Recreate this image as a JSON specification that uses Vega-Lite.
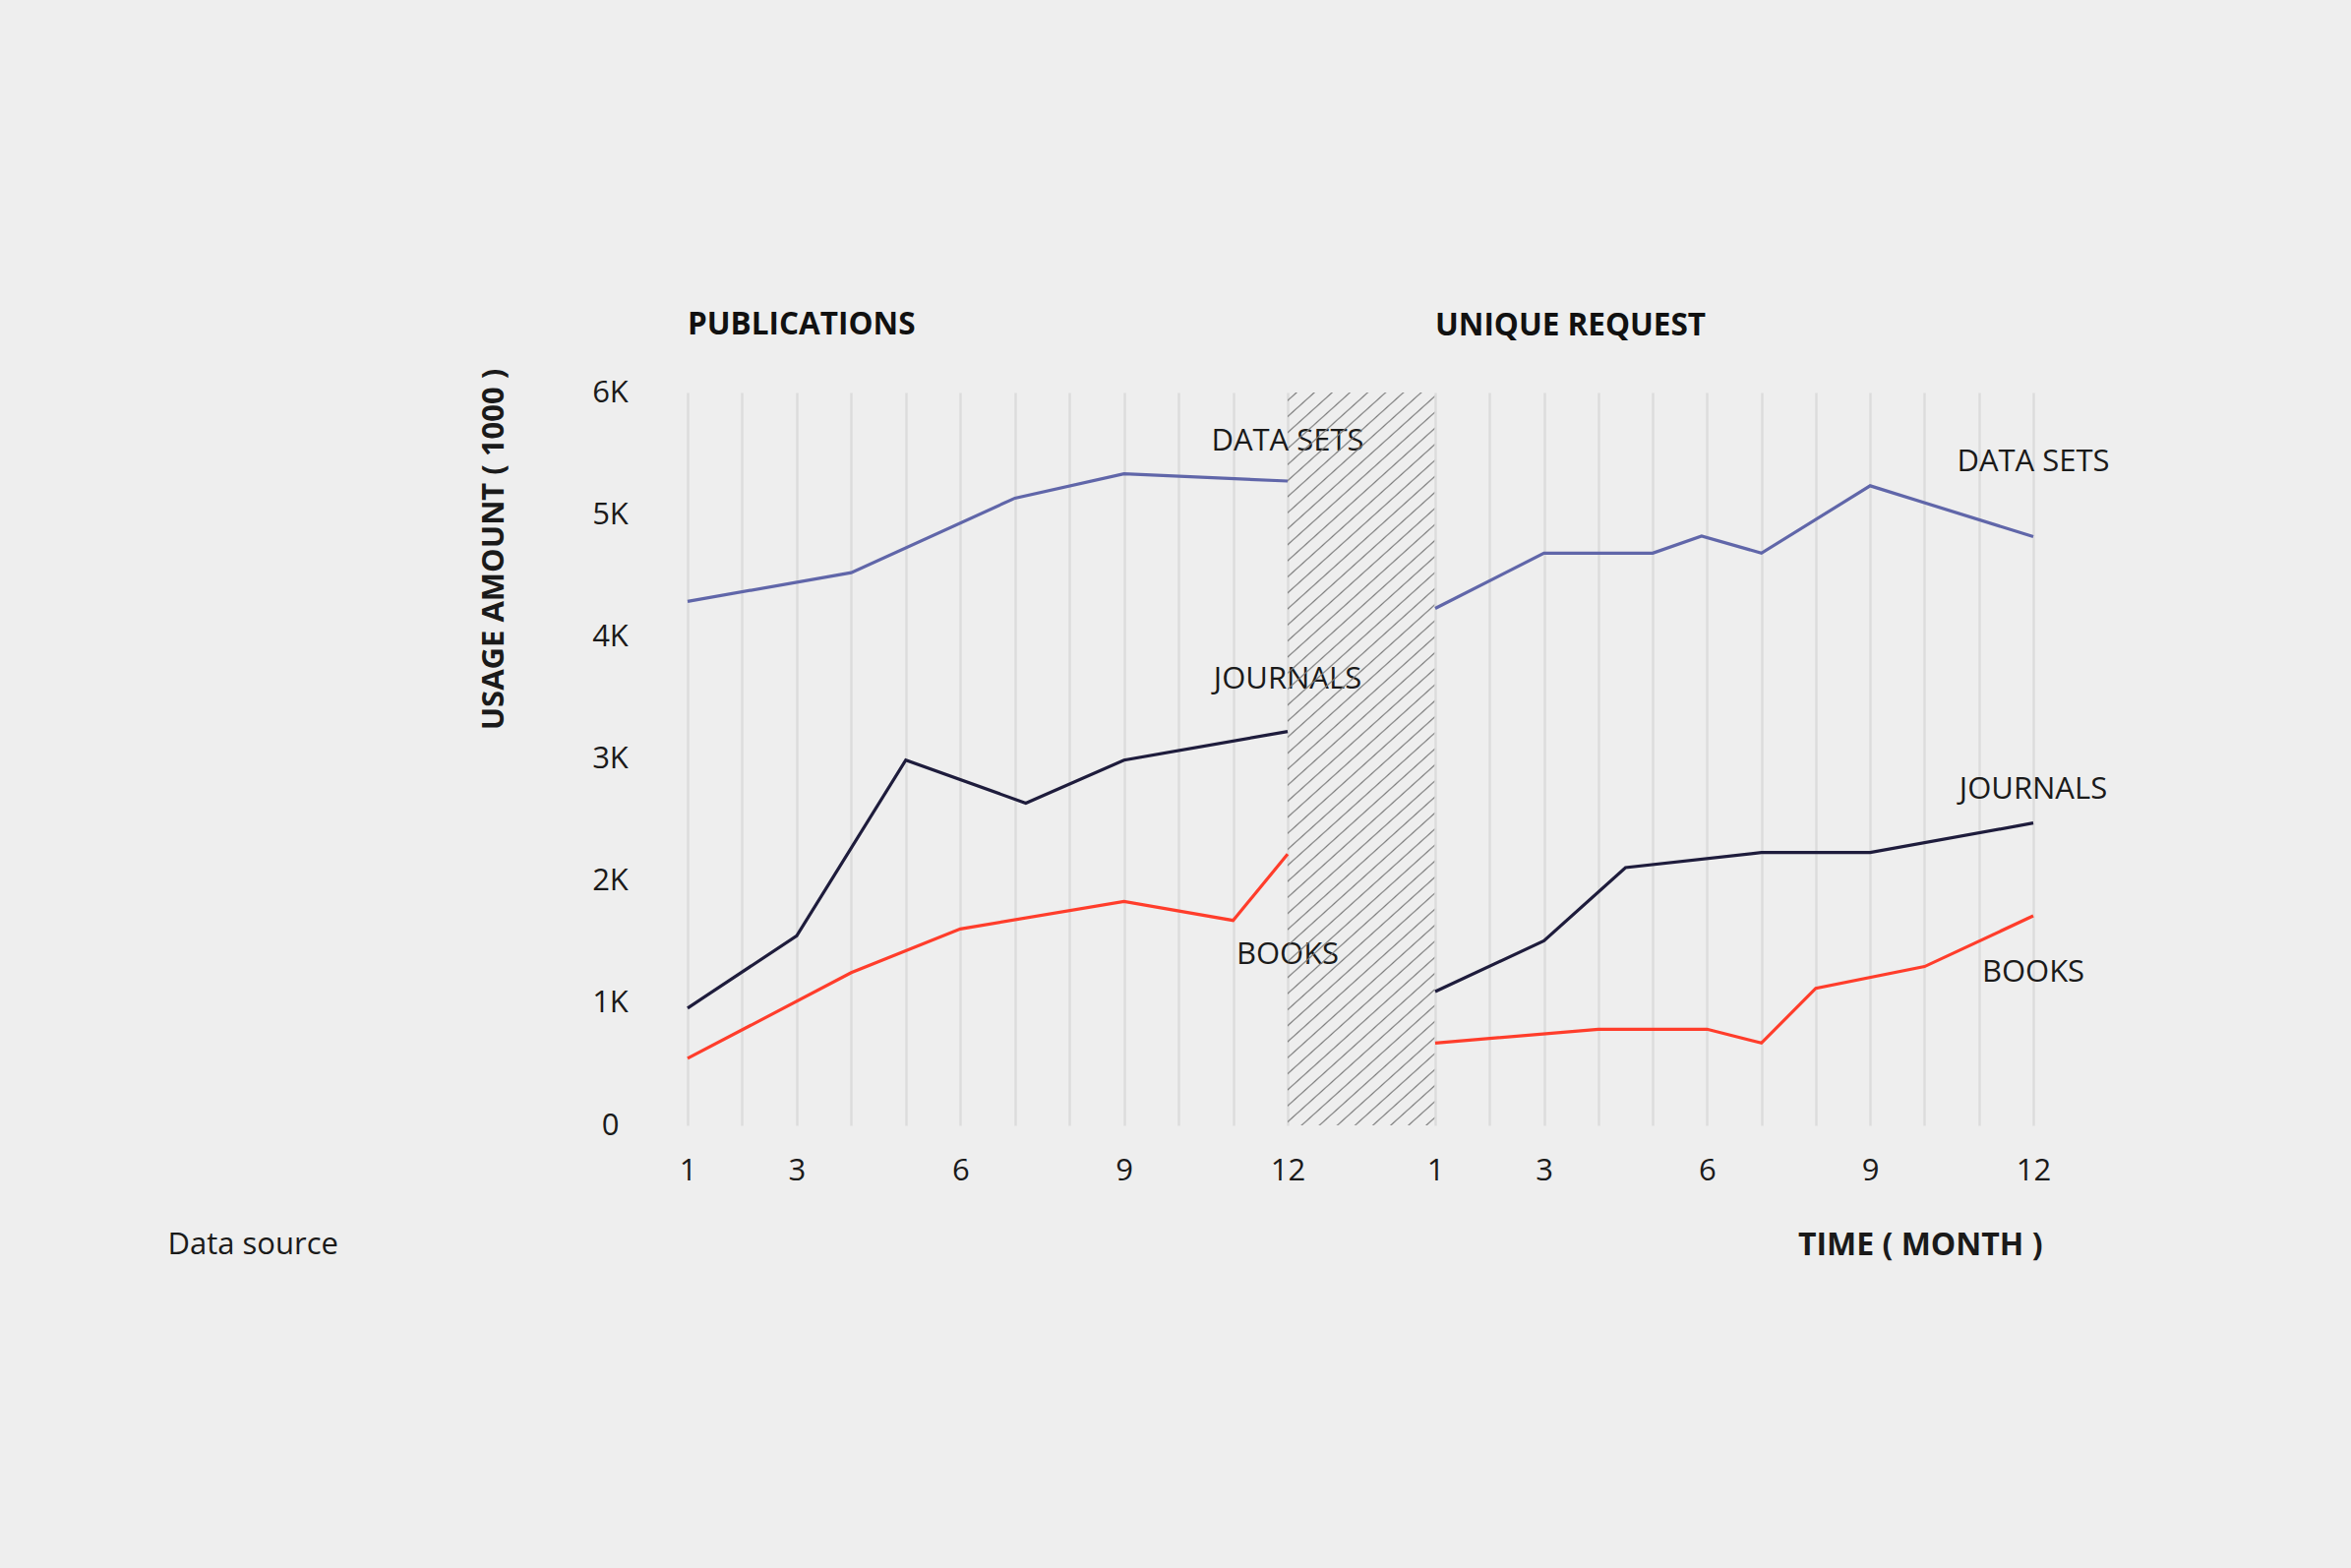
{
  "$schema": "https://vega.github.io/schema/vega-lite/v6.json",
  "background": "#eeeeee",
  "autosize": {"type": "pad"},
  "padding": {"left": 170, "top": 314, "right": 300, "bottom": 350},
  "spacing": 0,
  "bounds": "flush",
  "config": {
    "view": {"stroke": null},
    "font": "Open Sans",
    "axis": {
      "domain": false,
      "ticks": false,
      "labelFont": "Open Sans",
      "labelFontSize": 31,
      "labelColor": "#1a1a1a",
      "titleFont": "Open Sans",
      "titleFontSize": 31,
      "titleColor": "#1a1a1a",
      "labelFlush": false,
      "labelOverlap": false,
      "labelBound": false
    },
    "title": {
      "font": "Open Sans",
      "fontSize": 31.5,
      "fontWeight": "bold",
      "color": "#111111",
      "anchor": "start",
      "frame": "group",
      "baseline": "alphabetic"
    }
  },
  "datasets": {
    "usage": [
      {"panel": "PUBLICATIONS", "series": "DATA SETS", "month": 1, "usage": 4290},
      {"panel": "PUBLICATIONS", "series": "DATA SETS", "month": 4, "usage": 4525},
      {"panel": "PUBLICATIONS", "series": "DATA SETS", "month": 7, "usage": 5135},
      {"panel": "PUBLICATIONS", "series": "DATA SETS", "month": 9, "usage": 5335},
      {"panel": "PUBLICATIONS", "series": "DATA SETS", "month": 12, "usage": 5275},
      {"panel": "PUBLICATIONS", "series": "JOURNALS", "month": 1, "usage": 960},
      {"panel": "PUBLICATIONS", "series": "JOURNALS", "month": 3, "usage": 1551},
      {"panel": "PUBLICATIONS", "series": "JOURNALS", "month": 5, "usage": 2990},
      {"panel": "PUBLICATIONS", "series": "JOURNALS", "month": 7.2, "usage": 2638},
      {"panel": "PUBLICATIONS", "series": "JOURNALS", "month": 9, "usage": 2990},
      {"panel": "PUBLICATIONS", "series": "JOURNALS", "month": 12, "usage": 3225},
      {"panel": "PUBLICATIONS", "series": "BOOKS", "month": 1, "usage": 548},
      {"panel": "PUBLICATIONS", "series": "BOOKS", "month": 4, "usage": 1250},
      {"panel": "PUBLICATIONS", "series": "BOOKS", "month": 6, "usage": 1608},
      {"panel": "PUBLICATIONS", "series": "BOOKS", "month": 9, "usage": 1833},
      {"panel": "PUBLICATIONS", "series": "BOOKS", "month": 11, "usage": 1678},
      {"panel": "PUBLICATIONS", "series": "BOOKS", "month": 12, "usage": 2220},
      {"panel": "UNIQUE REQUEST", "series": "DATA SETS", "month": 1, "usage": 4232},
      {"panel": "UNIQUE REQUEST", "series": "DATA SETS", "month": 3, "usage": 4685},
      {"panel": "UNIQUE REQUEST", "series": "DATA SETS", "month": 5, "usage": 4685},
      {"panel": "UNIQUE REQUEST", "series": "DATA SETS", "month": 5.9, "usage": 4825},
      {"panel": "UNIQUE REQUEST", "series": "DATA SETS", "month": 7, "usage": 4685},
      {"panel": "UNIQUE REQUEST", "series": "DATA SETS", "month": 9, "usage": 5236},
      {"panel": "UNIQUE REQUEST", "series": "DATA SETS", "month": 12, "usage": 4820},
      {"panel": "UNIQUE REQUEST", "series": "JOURNALS", "month": 1, "usage": 1095},
      {"panel": "UNIQUE REQUEST", "series": "JOURNALS", "month": 3, "usage": 1511},
      {"panel": "UNIQUE REQUEST", "series": "JOURNALS", "month": 4.5, "usage": 2110},
      {"panel": "UNIQUE REQUEST", "series": "JOURNALS", "month": 7, "usage": 2234},
      {"panel": "UNIQUE REQUEST", "series": "JOURNALS", "month": 9, "usage": 2234},
      {"panel": "UNIQUE REQUEST", "series": "JOURNALS", "month": 12, "usage": 2475},
      {"panel": "UNIQUE REQUEST", "series": "BOOKS", "month": 1, "usage": 674},
      {"panel": "UNIQUE REQUEST", "series": "BOOKS", "month": 4, "usage": 787},
      {"panel": "UNIQUE REQUEST", "series": "BOOKS", "month": 6, "usage": 787},
      {"panel": "UNIQUE REQUEST", "series": "BOOKS", "month": 7, "usage": 674},
      {"panel": "UNIQUE REQUEST", "series": "BOOKS", "month": 8, "usage": 1122},
      {"panel": "UNIQUE REQUEST", "series": "BOOKS", "month": 10, "usage": 1300},
      {"panel": "UNIQUE REQUEST", "series": "BOOKS", "month": 12, "usage": 1715}
    ],
    "labels": [
      {"panel": "PUBLICATIONS", "series": "DATA SETS", "month": 12, "label_at": 5600},
      {"panel": "PUBLICATIONS", "series": "JOURNALS", "month": 12, "label_at": 3645},
      {"panel": "PUBLICATIONS", "series": "BOOKS", "month": 12, "label_at": 1395},
      {"panel": "UNIQUE REQUEST", "series": "DATA SETS", "month": 12, "label_at": 5425},
      {"panel": "UNIQUE REQUEST", "series": "JOURNALS", "month": 12, "label_at": 2745},
      {"panel": "UNIQUE REQUEST", "series": "BOOKS", "month": 12, "label_at": 1250}
    ]
  },
  "hconcat": [
    {
      "width": 610,
      "height": 745,
      "title": {"text": "PUBLICATIONS", "offset": 28},
      "layer": [
        {
          "data": {"name": "usage"},
          "transform": [{"filter": "datum.panel === 'PUBLICATIONS'"}],
          "mark": {"type": "line", "strokeWidth": 3.2},
          "encoding": {
            "x": {
              "field": "month",
              "type": "quantitative",
              "title": "Data source",
              "scale": {"domain": [1, 12], "nice": false, "zero": false},
              "axis": {
                "values": [1, 1.5, 2, 2.5, 3, 3.5, 4, 4.5, 5, 5.5, 6, 6.5, 7, 7.5, 8, 8.5, 9, 9.5, 10, 10.5, 11, 11.5, 12],
                "labelExpr": "indexof([1, 3, 6, 9, 12], datum.value) >= 0 ? '' + datum.value : ''",
                "grid": true,
                "gridColor": {"condition": {"test": "datum.value % 1 === 0", "value": "#dcdcdc"}, "value": "#e3e3e3"},
                "gridWidth": {"condition": {"test": "datum.value % 1 === 0", "value": 2.5}, "value": 1.5},
                "labelPadding": 46,
                "labelBaseline": "middle",
                "titleFontWeight": "normal",
                "titleX": -529,
                "titleY": 130,
                "titleAlign": "left",
                "titleBaseline": "alphabetic"
              }
            },
            "y": {
              "field": "usage",
              "type": "quantitative",
              "title": "USAGE AMOUNT ( 1000 )",
              "scale": {"domain": [0, 6000], "nice": false},
              "axis": {
                "values": [0, 1000, 2000, 3000, 4000, 5000, 6000],
                "labelExpr": "datum.value === 0 ? '0' : (datum.value / 1000) + 'K'",
                "grid": false,
                "labelAlign": "center",
                "labelBaseline": "middle",
                "labelPadding": 79,
                "titleFontWeight": "bold",
                "titleAngle": 270,
                "titleX": -188,
                "titleY": 159,
                "titleAlign": "center",
                "titleBaseline": "alphabetic"
              }
            },
            "color": {
              "field": "series",
              "type": "nominal",
              "scale": {"domain": ["DATA SETS", "JOURNALS", "BOOKS"], "range": ["#6066a9", "#1e1c3c", "#ff3d2b"]},
              "legend": null
            }
          }
        },
        {
          "data": {"name": "labels"},
          "transform": [{"filter": "datum.panel === 'PUBLICATIONS'"}],
          "mark": {"type": "text", "fontSize": 31, "align": "center", "baseline": "middle", "color": "#1a1a1a"},
          "encoding": {
            "x": {"field": "month", "type": "quantitative", "title": "Data source"},
            "y": {"field": "label_at", "type": "quantitative", "title": "USAGE AMOUNT ( 1000 )"},
            "text": {"field": "series"}
          }
        }
      ]
    },
    {
      "width": 150,
      "height": 745,
      "data": {"values": [{}]},
      "mark": {
        "type": "rect",
        "strokeWidth": 0,
        "fill": {
          "gradient": "linear",
          "x1": 0, "y1": 0, "x2": 0.20724, "y2": 1.14365,
          "stops": [
            {"offset": 0, "color": "rgba(125,125,125,0)"},
            {"offset": 0.0075, "color": "rgba(125,125,125,0)"}, {"offset": 0.0093, "color": "#7d7d7d"}, {"offset": 0.0111, "color": "rgba(125,125,125,0)"},
            {"offset": 0.0260, "color": "rgba(125,125,125,0)"}, {"offset": 0.0278, "color": "#7d7d7d"}, {"offset": 0.0296, "color": "rgba(125,125,125,0)"},
            {"offset": 0.0445, "color": "rgba(125,125,125,0)"}, {"offset": 0.0463, "color": "#7d7d7d"}, {"offset": 0.0481, "color": "rgba(125,125,125,0)"},
            {"offset": 0.0630, "color": "rgba(125,125,125,0)"}, {"offset": 0.0648, "color": "#7d7d7d"}, {"offset": 0.0666, "color": "rgba(125,125,125,0)"},
            {"offset": 0.0815, "color": "rgba(125,125,125,0)"}, {"offset": 0.0833, "color": "#7d7d7d"}, {"offset": 0.0851, "color": "rgba(125,125,125,0)"},
            {"offset": 0.1001, "color": "rgba(125,125,125,0)"}, {"offset": 0.1019, "color": "#7d7d7d"}, {"offset": 0.1037, "color": "rgba(125,125,125,0)"},
            {"offset": 0.1186, "color": "rgba(125,125,125,0)"}, {"offset": 0.1204, "color": "#7d7d7d"}, {"offset": 0.1222, "color": "rgba(125,125,125,0)"},
            {"offset": 0.1371, "color": "rgba(125,125,125,0)"}, {"offset": 0.1389, "color": "#7d7d7d"}, {"offset": 0.1407, "color": "rgba(125,125,125,0)"},
            {"offset": 0.1556, "color": "rgba(125,125,125,0)"}, {"offset": 0.1574, "color": "#7d7d7d"}, {"offset": 0.1592, "color": "rgba(125,125,125,0)"},
            {"offset": 0.1741, "color": "rgba(125,125,125,0)"}, {"offset": 0.1759, "color": "#7d7d7d"}, {"offset": 0.1777, "color": "rgba(125,125,125,0)"},
            {"offset": 0.1926, "color": "rgba(125,125,125,0)"}, {"offset": 0.1944, "color": "#7d7d7d"}, {"offset": 0.1962, "color": "rgba(125,125,125,0)"},
            {"offset": 0.2112, "color": "rgba(125,125,125,0)"}, {"offset": 0.2130, "color": "#7d7d7d"}, {"offset": 0.2148, "color": "rgba(125,125,125,0)"},
            {"offset": 0.2297, "color": "rgba(125,125,125,0)"}, {"offset": 0.2315, "color": "#7d7d7d"}, {"offset": 0.2333, "color": "rgba(125,125,125,0)"},
            {"offset": 0.2482, "color": "rgba(125,125,125,0)"}, {"offset": 0.2500, "color": "#7d7d7d"}, {"offset": 0.2518, "color": "rgba(125,125,125,0)"},
            {"offset": 0.2667, "color": "rgba(125,125,125,0)"}, {"offset": 0.2685, "color": "#7d7d7d"}, {"offset": 0.2703, "color": "rgba(125,125,125,0)"},
            {"offset": 0.2852, "color": "rgba(125,125,125,0)"}, {"offset": 0.2870, "color": "#7d7d7d"}, {"offset": 0.2888, "color": "rgba(125,125,125,0)"},
            {"offset": 0.3038, "color": "rgba(125,125,125,0)"}, {"offset": 0.3056, "color": "#7d7d7d"}, {"offset": 0.3074, "color": "rgba(125,125,125,0)"},
            {"offset": 0.3223, "color": "rgba(125,125,125,0)"}, {"offset": 0.3241, "color": "#7d7d7d"}, {"offset": 0.3259, "color": "rgba(125,125,125,0)"},
            {"offset": 0.3408, "color": "rgba(125,125,125,0)"}, {"offset": 0.3426, "color": "#7d7d7d"}, {"offset": 0.3444, "color": "rgba(125,125,125,0)"},
            {"offset": 0.3593, "color": "rgba(125,125,125,0)"}, {"offset": 0.3611, "color": "#7d7d7d"}, {"offset": 0.3629, "color": "rgba(125,125,125,0)"},
            {"offset": 0.3778, "color": "rgba(125,125,125,0)"}, {"offset": 0.3796, "color": "#7d7d7d"}, {"offset": 0.3814, "color": "rgba(125,125,125,0)"},
            {"offset": 0.3964, "color": "rgba(125,125,125,0)"}, {"offset": 0.3982, "color": "#7d7d7d"}, {"offset": 0.4000, "color": "rgba(125,125,125,0)"},
            {"offset": 0.4149, "color": "rgba(125,125,125,0)"}, {"offset": 0.4167, "color": "#7d7d7d"}, {"offset": 0.4185, "color": "rgba(125,125,125,0)"},
            {"offset": 0.4334, "color": "rgba(125,125,125,0)"}, {"offset": 0.4352, "color": "#7d7d7d"}, {"offset": 0.4370, "color": "rgba(125,125,125,0)"},
            {"offset": 0.4519, "color": "rgba(125,125,125,0)"}, {"offset": 0.4537, "color": "#7d7d7d"}, {"offset": 0.4555, "color": "rgba(125,125,125,0)"},
            {"offset": 0.4704, "color": "rgba(125,125,125,0)"}, {"offset": 0.4722, "color": "#7d7d7d"}, {"offset": 0.4740, "color": "rgba(125,125,125,0)"},
            {"offset": 0.4889, "color": "rgba(125,125,125,0)"}, {"offset": 0.4907, "color": "#7d7d7d"}, {"offset": 0.4925, "color": "rgba(125,125,125,0)"},
            {"offset": 0.5075, "color": "rgba(125,125,125,0)"}, {"offset": 0.5093, "color": "#7d7d7d"}, {"offset": 0.5111, "color": "rgba(125,125,125,0)"},
            {"offset": 0.5260, "color": "rgba(125,125,125,0)"}, {"offset": 0.5278, "color": "#7d7d7d"}, {"offset": 0.5296, "color": "rgba(125,125,125,0)"},
            {"offset": 0.5445, "color": "rgba(125,125,125,0)"}, {"offset": 0.5463, "color": "#7d7d7d"}, {"offset": 0.5481, "color": "rgba(125,125,125,0)"},
            {"offset": 0.5630, "color": "rgba(125,125,125,0)"}, {"offset": 0.5648, "color": "#7d7d7d"}, {"offset": 0.5666, "color": "rgba(125,125,125,0)"},
            {"offset": 0.5815, "color": "rgba(125,125,125,0)"}, {"offset": 0.5833, "color": "#7d7d7d"}, {"offset": 0.5851, "color": "rgba(125,125,125,0)"},
            {"offset": 0.6001, "color": "rgba(125,125,125,0)"}, {"offset": 0.6019, "color": "#7d7d7d"}, {"offset": 0.6037, "color": "rgba(125,125,125,0)"},
            {"offset": 0.6186, "color": "rgba(125,125,125,0)"}, {"offset": 0.6204, "color": "#7d7d7d"}, {"offset": 0.6222, "color": "rgba(125,125,125,0)"},
            {"offset": 0.6371, "color": "rgba(125,125,125,0)"}, {"offset": 0.6389, "color": "#7d7d7d"}, {"offset": 0.6407, "color": "rgba(125,125,125,0)"},
            {"offset": 0.6556, "color": "rgba(125,125,125,0)"}, {"offset": 0.6574, "color": "#7d7d7d"}, {"offset": 0.6592, "color": "rgba(125,125,125,0)"},
            {"offset": 0.6741, "color": "rgba(125,125,125,0)"}, {"offset": 0.6759, "color": "#7d7d7d"}, {"offset": 0.6777, "color": "rgba(125,125,125,0)"},
            {"offset": 0.6926, "color": "rgba(125,125,125,0)"}, {"offset": 0.6944, "color": "#7d7d7d"}, {"offset": 0.6962, "color": "rgba(125,125,125,0)"},
            {"offset": 0.7112, "color": "rgba(125,125,125,0)"}, {"offset": 0.7130, "color": "#7d7d7d"}, {"offset": 0.7148, "color": "rgba(125,125,125,0)"},
            {"offset": 0.7297, "color": "rgba(125,125,125,0)"}, {"offset": 0.7315, "color": "#7d7d7d"}, {"offset": 0.7333, "color": "rgba(125,125,125,0)"},
            {"offset": 0.7482, "color": "rgba(125,125,125,0)"}, {"offset": 0.7500, "color": "#7d7d7d"}, {"offset": 0.7518, "color": "rgba(125,125,125,0)"},
            {"offset": 0.7667, "color": "rgba(125,125,125,0)"}, {"offset": 0.7685, "color": "#7d7d7d"}, {"offset": 0.7703, "color": "rgba(125,125,125,0)"},
            {"offset": 0.7852, "color": "rgba(125,125,125,0)"}, {"offset": 0.7870, "color": "#7d7d7d"}, {"offset": 0.7888, "color": "rgba(125,125,125,0)"},
            {"offset": 0.8038, "color": "rgba(125,125,125,0)"}, {"offset": 0.8056, "color": "#7d7d7d"}, {"offset": 0.8074, "color": "rgba(125,125,125,0)"},
            {"offset": 0.8223, "color": "rgba(125,125,125,0)"}, {"offset": 0.8241, "color": "#7d7d7d"}, {"offset": 0.8259, "color": "rgba(125,125,125,0)"},
            {"offset": 0.8408, "color": "rgba(125,125,125,0)"}, {"offset": 0.8426, "color": "#7d7d7d"}, {"offset": 0.8444, "color": "rgba(125,125,125,0)"},
            {"offset": 0.8593, "color": "rgba(125,125,125,0)"}, {"offset": 0.8611, "color": "#7d7d7d"}, {"offset": 0.8629, "color": "rgba(125,125,125,0)"},
            {"offset": 0.8778, "color": "rgba(125,125,125,0)"}, {"offset": 0.8796, "color": "#7d7d7d"}, {"offset": 0.8814, "color": "rgba(125,125,125,0)"},
            {"offset": 0.8964, "color": "rgba(125,125,125,0)"}, {"offset": 0.8982, "color": "#7d7d7d"}, {"offset": 0.9000, "color": "rgba(125,125,125,0)"},
            {"offset": 0.9149, "color": "rgba(125,125,125,0)"}, {"offset": 0.9167, "color": "#7d7d7d"}, {"offset": 0.9185, "color": "rgba(125,125,125,0)"},
            {"offset": 0.9334, "color": "rgba(125,125,125,0)"}, {"offset": 0.9352, "color": "#7d7d7d"}, {"offset": 0.9370, "color": "rgba(125,125,125,0)"},
            {"offset": 0.9519, "color": "rgba(125,125,125,0)"}, {"offset": 0.9537, "color": "#7d7d7d"}, {"offset": 0.9555, "color": "rgba(125,125,125,0)"},
            {"offset": 0.9704, "color": "rgba(125,125,125,0)"}, {"offset": 0.9722, "color": "#7d7d7d"}, {"offset": 0.9740, "color": "rgba(125,125,125,0)"},
            {"offset": 0.9889, "color": "rgba(125,125,125,0)"}, {"offset": 0.9907, "color": "#7d7d7d"}, {"offset": 0.9925, "color": "rgba(125,125,125,0)"},
            {"offset": 1, "color": "rgba(125,125,125,0)"}
          ]
        }
      },
      "encoding": {
        "x": {"value": 0},
        "x2": {"value": "width"},
        "y": {"value": 0},
        "y2": {"value": "height"}
      }
    },
    {
      "width": 608,
      "height": 745,
      "title": {"text": "UNIQUE REQUEST", "offset": 52},
      "layer": [
        {
          "data": {"name": "usage"},
          "transform": [{"filter": "datum.panel === 'UNIQUE REQUEST'"}],
          "mark": {"type": "line", "strokeWidth": 3.2},
          "encoding": {
            "x": {
              "field": "month",
              "type": "quantitative",
              "title": "TIME ( MONTH )",
              "scale": {"domain": [1, 12], "nice": false, "zero": false},
              "axis": {
                "values": [1, 1.5, 2, 2.5, 3, 3.5, 4, 4.5, 5, 5.5, 6, 6.5, 7, 7.5, 8, 8.5, 9, 9.5, 10, 10.5, 11, 11.5, 12],
                "labelExpr": "indexof([1, 3, 6, 9, 12], datum.value) >= 0 ? '' + datum.value : ''",
                "grid": true,
                "gridColor": {"condition": {"test": "datum.value % 1 === 0", "value": "#dcdcdc"}, "value": "#e3e3e3"},
                "gridWidth": {"condition": {"test": "datum.value % 1 === 0", "value": 2.5}, "value": 1.5},
                "labelPadding": 46,
                "labelBaseline": "middle",
                "titleFontWeight": "bold",
                "titleFontSize": 32,
                "titleX": 617,
                "titleY": 131,
                "titleAlign": "right",
                "titleBaseline": "alphabetic"
              }
            },
            "y": {
              "field": "usage",
              "type": "quantitative",
              "scale": {"domain": [0, 6000], "nice": false},
              "axis": null
            },
            "color": {
              "field": "series",
              "type": "nominal",
              "scale": {"domain": ["DATA SETS", "JOURNALS", "BOOKS"], "range": ["#6066a9", "#1e1c3c", "#ff3d2b"]},
              "legend": null
            }
          }
        },
        {
          "data": {"name": "labels"},
          "transform": [{"filter": "datum.panel === 'UNIQUE REQUEST'"}],
          "mark": {"type": "text", "fontSize": 31, "align": "center", "baseline": "middle", "color": "#1a1a1a"},
          "encoding": {
            "x": {"field": "month", "type": "quantitative", "title": "TIME ( MONTH )"},
            "y": {"field": "label_at", "type": "quantitative", "axis": null},
            "text": {"field": "series"}
          }
        }
      ]
    }
  ]
}
